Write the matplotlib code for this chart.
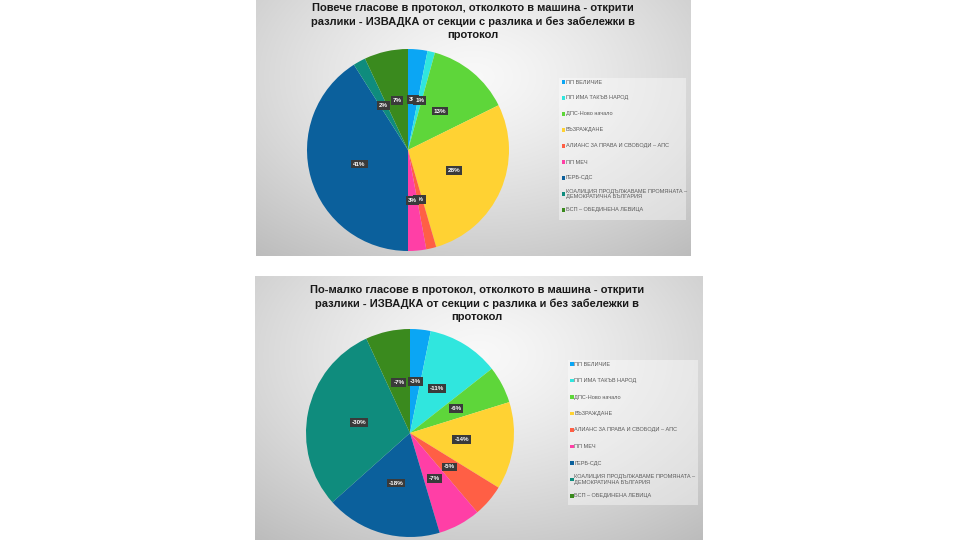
import numpy as np
import matplotlib
matplotlib.use("Agg")
import matplotlib.pyplot as plt
from matplotlib.patches import Rectangle

# ---------------- data ----------------
parties = [
    "ПП ВЕЛИЧИЕ",
    "ПП ИМА ТАКЪВ НАРОД",
    "ДПС-Ново начало",
    "ВЪЗРАЖДАНЕ",
    "АЛИАНС ЗА ПРАВА И СВОБОДИ – АПС",
    "ПП МЕЧ",
    "ГЕРБ-СДС",
    "КОАЛИЦИЯ ПРОДЪЛЖАВАМЕ ПРОМЯНАТА –\nДЕМОКРАТИЧНА БЪЛГАРИЯ",
    "БСП – ОБЕДИНЕНА ЛЕВИЦА",
]
colors = ["#0BA6F4", "#30E6DE", "#5ED63A", "#FFD233", "#FF5F45",
          "#FF3FA6", "#0B609C", "#0F8C7D", "#3A8A1E"]

title_more = ("Повече гласове в протокол, отколкото в машина - открити\n"
              "разлики - ИЗВАДКА от секции с разлика и без забележки в\n"
              "протокол")
title_less = ("По-малко гласове в протокол, отколкото в машина - открити\n"
              "разлики - ИЗВАДКА от секции с разлика и без забележки в\n"
              "протокол")

share_more = [3.1, 1.2, 13.4, 27.8, 1.6, 2.9, 41.0, 2.0, 7.0]        # %
share_less = [-3.2, -11.2, -5.8, -13.6, -5.0, -6.6, -18.0, -29.7, -6.9]  # %

# ---------------- layout ----------------
W, H = 958, 540
fig = plt.figure(figsize=(W / 100, H / 100), dpi=100)
fig.patch.set_facecolor("white")


def ax_px(x0, y0, x1, y1, **kw):
    return fig.add_axes([x0 / W, 1 - y1 / H, (x1 - x0) / W, (y1 - y0) / H], **kw)


def gradient(ax, cx=0.5, cy=0.3):
    ny, nx = 200, 340
    yy, xx = np.mgrid[0:1:ny * 1j, 0:1:nx * 1j]
    d = np.sqrt(((xx - cx) / 0.75) ** 2 + ((yy - cy) / 0.85) ** 2)
    v = np.clip(0.975 - 0.22 * d ** 1.3, 0, 1)
    img = np.dstack([v, v, v])
    ax.imshow(img, extent=(0, 1, 1, 0), aspect="auto", interpolation="bilinear")
    ax.set_xlim(0, 1)
    ax.set_ylim(1, 0)
    ax.axis("off")


def draw_panel(box, title, title_xy, values, pie_c, r, leg_box, leg_y0, leg_step, neg):
    bg = ax_px(*box)
    gradient(bg)

    cx, cy = pie_c
    pax = ax_px(cx - r, cy - r, cx + r, cy + r)
    vals = np.abs(np.array(values))
    sign = "-" if neg else ""
    wedges, texts, autotexts = pax.pie(
        vals, colors=colors, startangle=90, counterclock=False,
        autopct=lambda p: f"{sign}{p:.0f}%", pctdistance=0.5,
        wedgeprops=dict(linewidth=0),
        textprops=dict(color="white", fontsize=4.5, fontweight="bold",
                       family="Liberation Sans"))
    for t in autotexts:
        t.set_bbox(dict(boxstyle="square,pad=0.3", fc="#3a3a3a", ec="none"))
    pax.set_xlim(-1, 1)
    pax.set_ylim(-1, 1)
    pax.set_aspect("equal")

    ov = ax_px(*box)
    ov.set_xlim(box[0], box[2])
    ov.set_ylim(box[3], box[1])
    ov.axis("off")
    ov.set_zorder(10)
    ov.text(title_xy[0], title_xy[1], title, ha="center", va="top",
            fontsize=8.0, fontweight="bold", family="Liberation Sans",
            color="#1a1a1a", linespacing=1.38)
    lx0, ly0, lx1, ly1 = leg_box
    ov.add_patch(Rectangle((lx0, ly0), lx1 - lx0, ly1 - ly0,
                           fc="white", alpha=0.4, ec="none"))
    for i, (lab, col) in enumerate(zip(parties, colors)):
        y = leg_y0 + i * leg_step
        ov.add_patch(Rectangle((lx0 + 2.5, y - 1.6), 3.2, 3.2, fc=col, ec="none"))
        ov.text(lx0 + 6.5, y, lab, ha="left", va="center", fontsize=4.0,
                family="Liberation Sans", color="#595959", linespacing=1.05)


draw_panel((256, 0, 691, 256), title_more, (473, 3), share_more,
           (408, 150), 101, (559, 78, 686, 220), 82, 16, False)
draw_panel((255, 276, 703, 540), title_less, (477, 285), share_less,
           (410, 433), 104, (568, 360, 698, 505), 364, 16.5, True)

fig.savefig("out.png", dpi=100, facecolor="white")
